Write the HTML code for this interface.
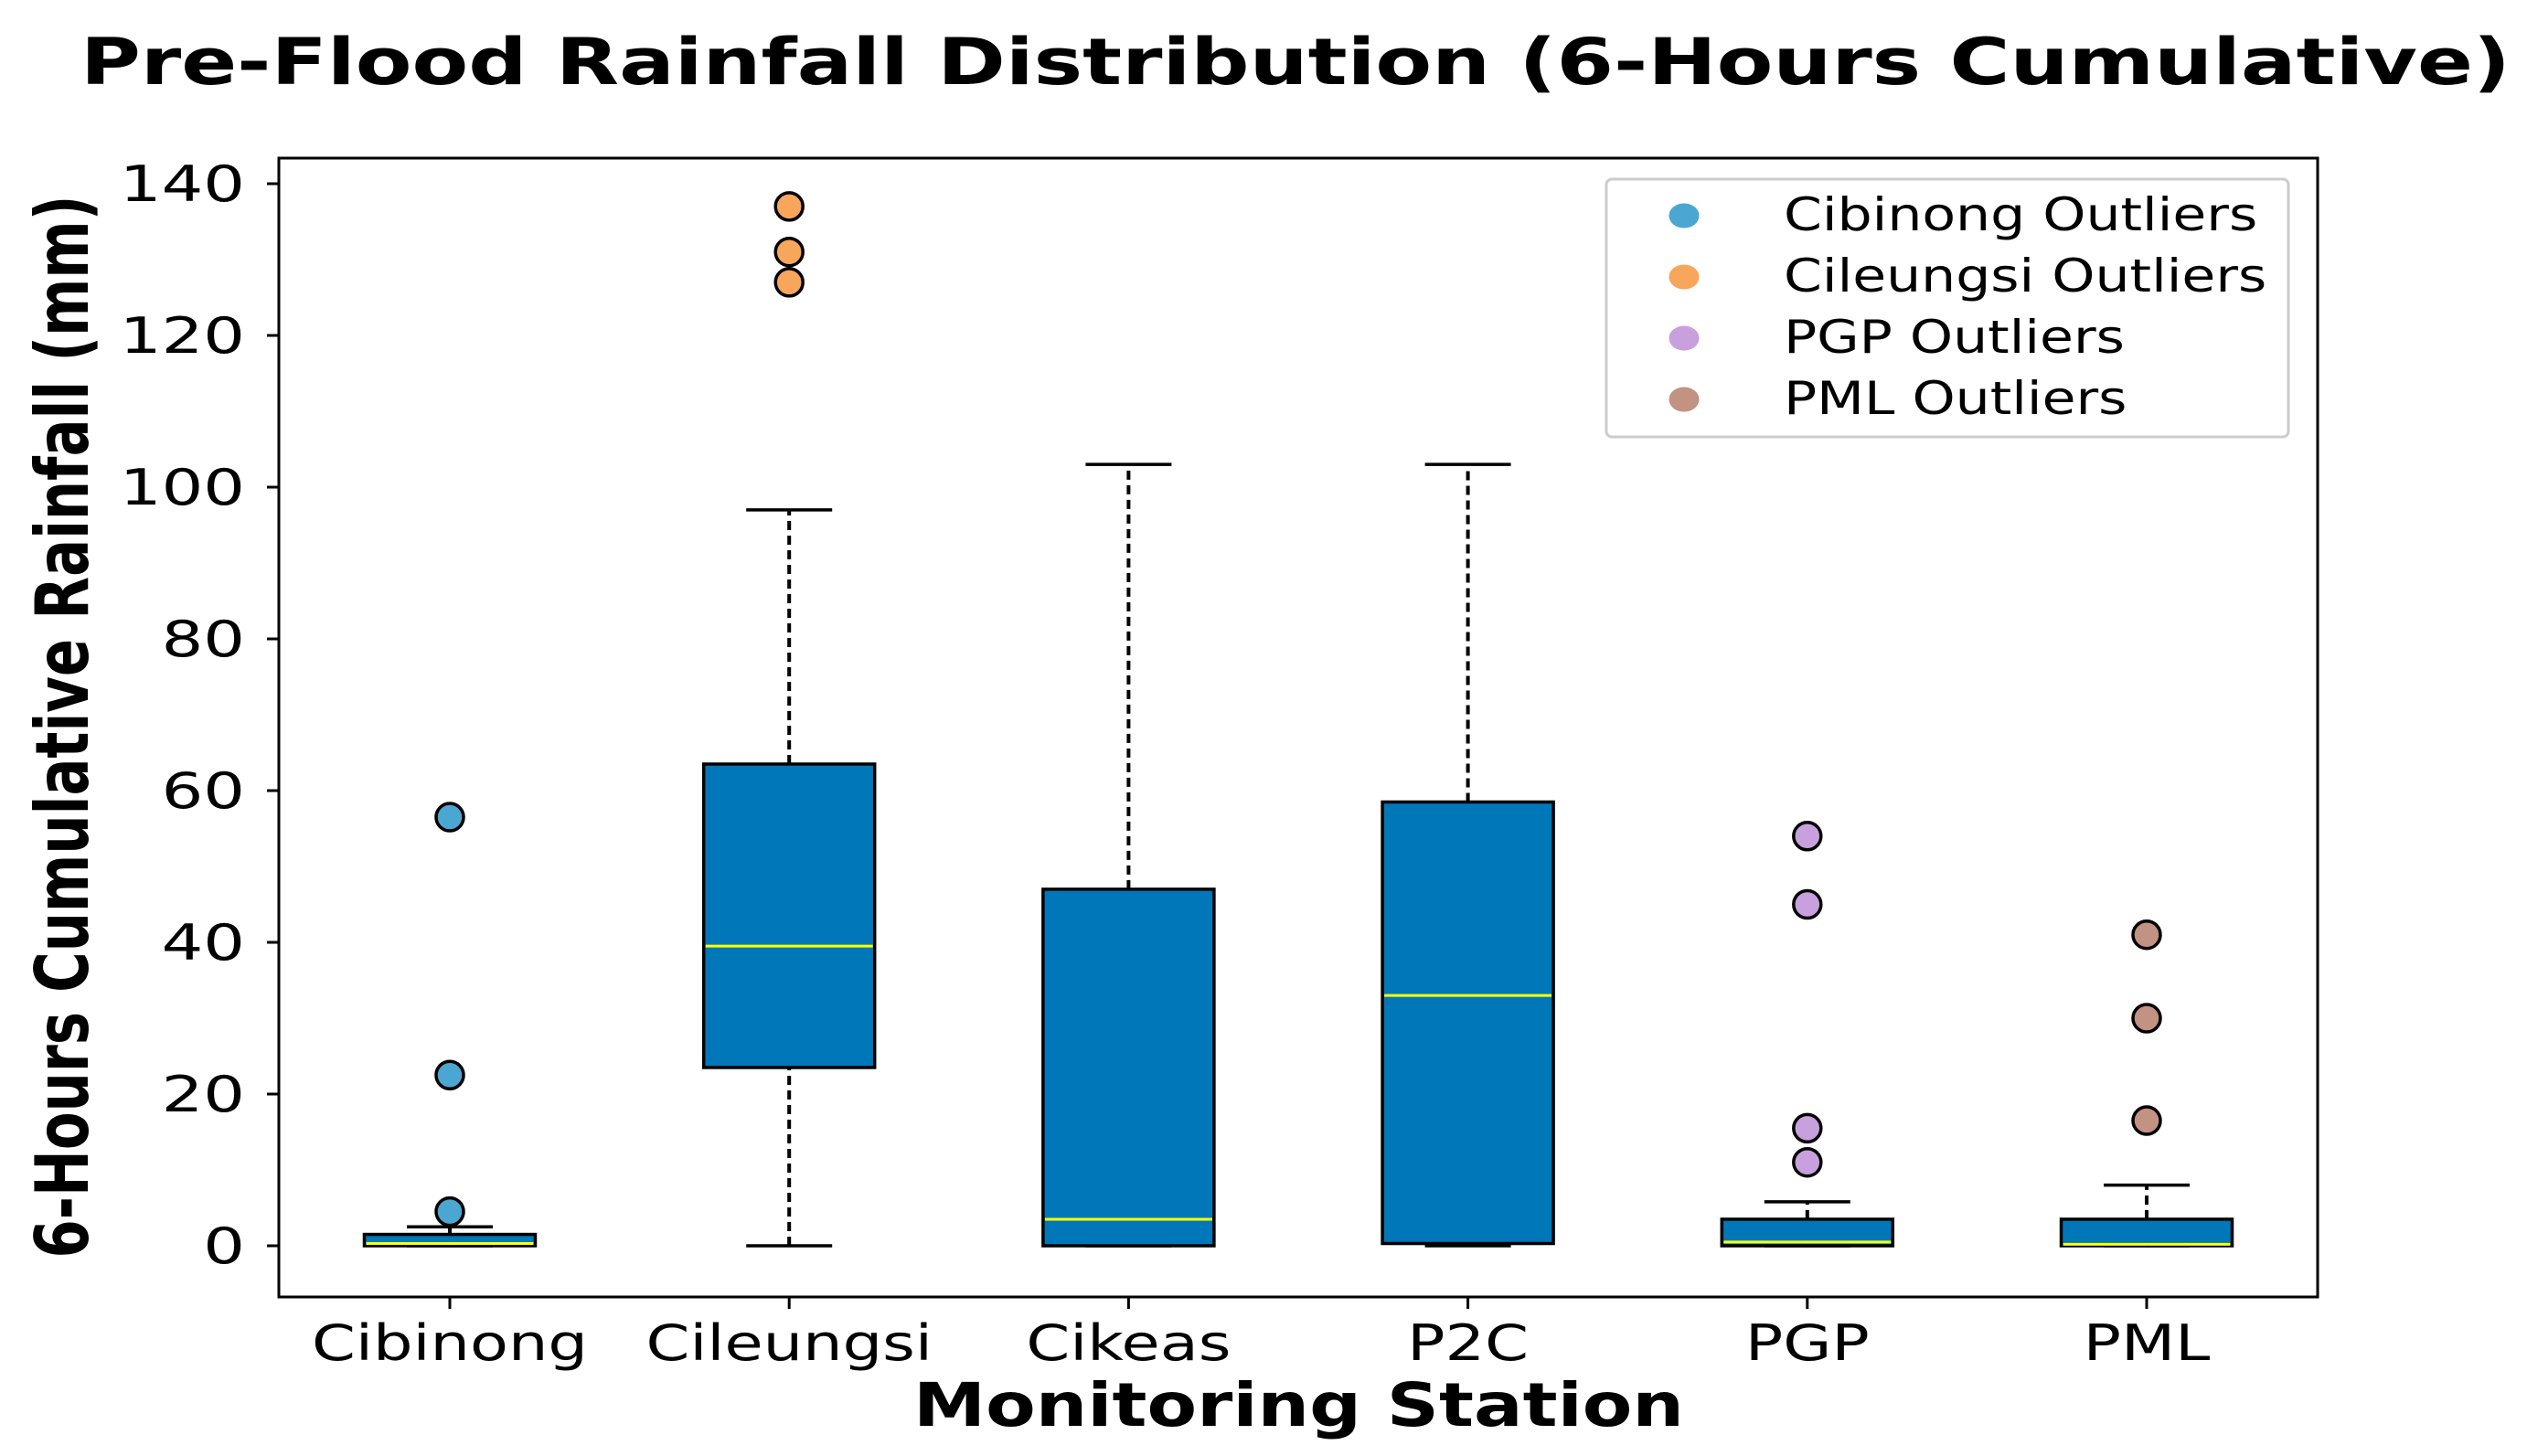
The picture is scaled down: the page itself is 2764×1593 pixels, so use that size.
<!DOCTYPE html>
<html><head><meta charset="utf-8"><style>
html,body{margin:0;padding:0;background:#fff;}
svg{display:block;font-family:"DejaVu Sans","Liberation Sans",sans-serif;}
</style></head><body>
<svg id="chart" width="2764" height="1593" viewBox="0 0 2764 1593" xmlns="http://www.w3.org/2000/svg">
<text x="88" y="92" font-size="70" font-weight="bold" textLength="2658" lengthAdjust="spacingAndGlyphs">Pre-Flood Rainfall Distribution (6-Hours Cumulative)</text>
<rect x="305" y="173" width="2230" height="1246" fill="#fff" stroke="#000" stroke-width="3"/>
<g id="yaxis"></g>
<g id="xaxis"></g>
<g id="boxes"></g>
<text transform="translate(96,795) rotate(-90)" text-anchor="middle" font-size="80" font-weight="bold" font-family="'DejaVu Sans Condensed','Liberation Sans Narrow',sans-serif" textLength="1163" lengthAdjust="spacingAndGlyphs">6-Hours Cumulative Rainfall (mm)</text>
<text x="999" y="1560" font-size="66" font-weight="bold" textLength="843" lengthAdjust="spacingAndGlyphs">Monitoring Station</text>
<g>
<rect x="1757" y="196" width="746" height="282" rx="6" fill="#fff" stroke="#ccc" stroke-width="3"/>
<g id="legend"></g>
</g>
</svg>
<script>
const categories=["Cibinong","Cileungsi","Cikeas","P2C","PGP","PML"];
const whiskerLow=[0,0,0,0,0,0];
const q1=[0,23.5,0,0.3,0,0];
const medians=[0.3,39.5,3.5,33,0.5,0.2];
const q3=[1.5,63.5,47,58.5,3.5,3.5];
const whiskerHigh=[2.5,97,103,103,5.8,8];
const outliers=[[4.5,22.5,56.5],[127,131,137],[],[],[11,15.5,45,54],[16.5,30,41]];
const yTicks=[0,20,40,60,80,100,120,140];
const legendLabels=["Cibinong Outliers","Cileungsi Outliers","PGP Outliers","PML Outliers"];
const legendColors=["#4ba7d2","#f7a65c","#c9a0de","#c29282"];
const outlierColors=["#4ba7d2","#f7a65c",null,null,"#c9a0de","#c29282"];

const NS="http://www.w3.org/2000/svg";
function y(v){return 1363-v*(1363-201)/140;}
function x(i){return 492+i*371.2;}
function mk(tag,attrs,parent,txt){const e=document.createElementNS(NS,tag);for(const k in attrs)e.setAttribute(k,attrs[k]);if(txt!==undefined)e.textContent=txt;parent.appendChild(e);return e;}
function stretch(e,f){const w=e.getComputedTextLength();e.setAttribute('textLength',w*f);e.setAttribute('lengthAdjust','spacingAndGlyphs');}
const ya=document.getElementById('yaxis'),xa=document.getElementById('xaxis'),bx=document.getElementById('boxes'),lg=document.getElementById('legend');
yTicks.forEach(t=>{
  const l=mk('line',{x1:292,x2:305,y1:y(t),y2:y(t),stroke:'#000','stroke-width':3},ya);
  
  
  const tx=mk('text',{x:268,y:y(t)+19,'text-anchor':'end','font-size':54},ya,String(t));
  
  
  stretch(tx,1.33);
});
categories.forEach((c,i)=>{
  const cx=x(i),w=187;
  const l=mk('line',{x1:cx,x2:cx,y1:1419,y2:1432,stroke:'#000','stroke-width':3},xa);
  
  
  const tx=mk('text',{x:cx,y:1488,'text-anchor':'middle','font-size':54},xa,c);
  
  
  stretch(tx,1.27);
  const g=mk('g',{},bx);
  
  
  mk('line',{x1:cx,x2:cx,y1:y(q3[i]),y2:y(whiskerHigh[i]),stroke:'#000','stroke-width':4,'stroke-dasharray':'10,6'},g);
  mk('line',{x1:cx,x2:cx,y1:y(whiskerLow[i]),y2:y(q1[i]),stroke:'#000','stroke-width':4,'stroke-dasharray':'10,6'},g);
  mk('line',{x1:cx-47,x2:cx+47,y1:y(whiskerHigh[i]),y2:y(whiskerHigh[i]),stroke:'#000','stroke-width':3.5},g);
  mk('line',{x1:cx-47,x2:cx+47,y1:y(whiskerLow[i]),y2:y(whiskerLow[i]),stroke:'#000','stroke-width':3.5},g);
  mk('rect',{x:cx-w/2,y:y(q3[i]),width:w,height:Math.max(y(q1[i])-y(q3[i]),1),fill:'#0077b8',stroke:'#000','stroke-width':3.5},g);
  mk('line',{x1:cx-w/2+2,x2:cx+w/2-2,y1:y(medians[i]),y2:y(medians[i]),stroke:'#ffff00','stroke-width':3},g);
  outliers[i].forEach(v=>{
    const o=mk('circle',{cx:cx,cy:y(v),r:15,fill:outlierColors[i],stroke:'#000','stroke-width':3.5},g);
    
    
  });
});
legendLabels.forEach((t,i)=>{
  const yy=234+i*67;
  const g=mk('g',{},lg);
  
  
  mk('ellipse',{cx:1842,cy:yy+2,rx:16,ry:13,fill:legendColors[i],stroke:legendColors[i]},g);
  const tx=mk('text',{x:1951,y:yy+18,'font-size':50},g,t);
  stretch(tx,1.2);
});
</script>
</body></html>
